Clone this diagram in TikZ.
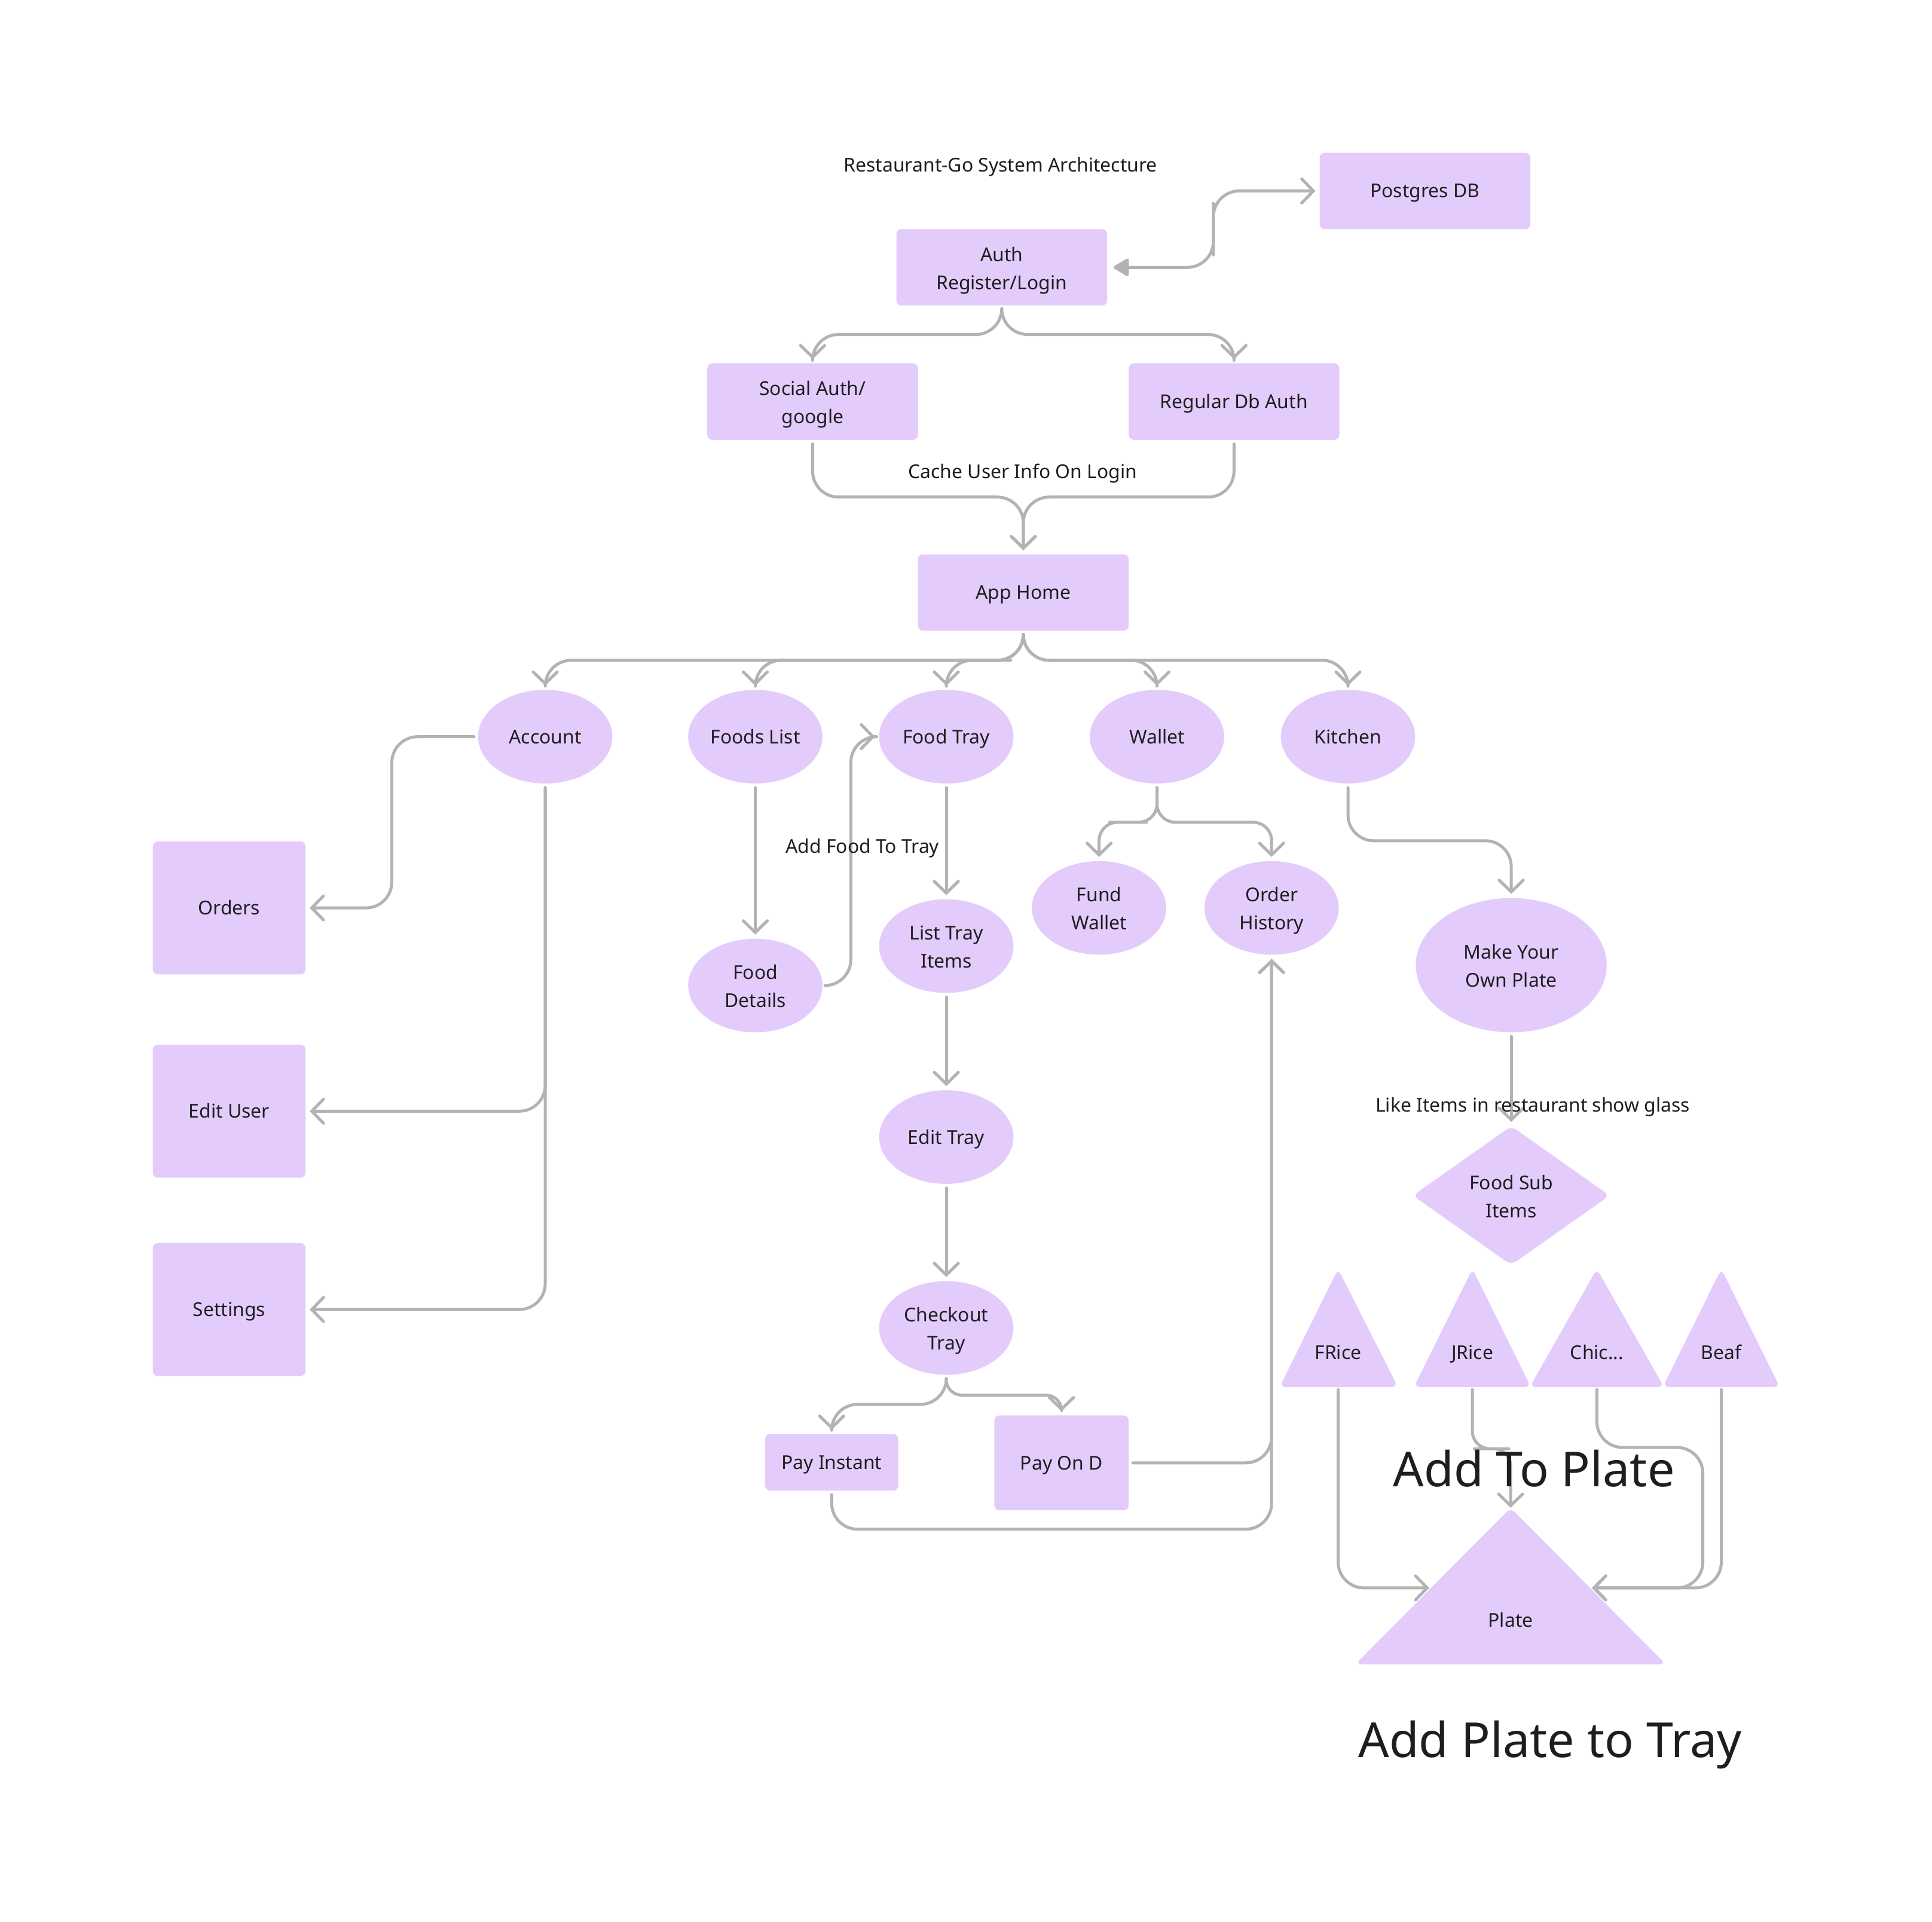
\documentclass[tikz,border=0pt]{standalone}
\usepackage{fontspec}
\setmainfont{Noto Sans}
\usetikzlibrary{arrows.meta,shapes.geometric,calc}
\definecolor{nodefill}{HTML}{E3CCFC}
\definecolor{linegray}{HTML}{B3B3B3}
\definecolor{txt}{HTML}{1E1E1E}
\newcommand\mytxt{\fontsize{8.8}{13}\selectfont}
\newcommand\mybig{\fontsize{22.3}{26}\selectfont}
\tikzset{
  lbl/.style={inner sep=0pt, align=center, text=txt, font=\mytxt, yshift=-0.02cm,
    execute at begin node=\strut, execute at end node=\strut},
  lbltwo/.style={lbl, yshift=-0.06cm},
  t/.style={label={[lbl]center:#1}},
  tt/.style={label={[lbltwo]center:#1}},
  box/.style={rectangle, fill=nodefill, rounded corners=0.08cm, inner sep=0pt},
  oval/.style={ellipse, fill=nodefill, inner sep=0pt, minimum width=2.18cm, minimum height=1.52cm},
  biglbl/.style={inner sep=0pt, text=txt, font=\mybig, yshift=-0.046cm},
  tri/.style={fill=nodefill, rounded corners=0.1cm},
  conn/.style={draw=linegray, line width=1.38pt, line cap=round, line join=round, rounded corners=0.42cm,
    -{Straight Barb[length=0.19cm,width=0.39cm,line cap=round]}, shorten >=0.06cm, shorten <=0.06cm},
}
\begin{document}
\begin{tikzpicture}[x=0.02cm,y=-0.02cm]
\useasboundingbox (0,0) rectangle (1568,1560);
\fill[white] (0,0) rectangle (1568,1560);

% rectangles
\node[box, minimum width=3.42cm, minimum height=1.24cm, t={Postgres DB}] (pg) at (1156.5,155) {};
\node[box, minimum width=3.42cm, minimum height=1.24cm, tt={Auth\\Register/Login}] (auth) at (813,217) {};
\node[box, minimum width=3.42cm, minimum height=1.24cm, tt={Social Auth/\\google}] (social) at (659.5,326) {};
\node[box, minimum width=3.42cm, minimum height=1.24cm, t={Regular Db Auth}] (regular) at (1001.5,326) {};
\node[box, minimum width=3.42cm, minimum height=1.24cm, t={App Home}] (home) at (830.5,481) {};
\node[box, minimum width=2.48cm, minimum height=2.16cm, t={Orders}] (orders) at (186,737) {};
\node[box, minimum width=2.48cm, minimum height=2.16cm, t={Edit User}] (edituser) at (186,902) {};
\node[box, minimum width=2.48cm, minimum height=2.16cm, t={Settings}] (settings) at (186,1063) {};
\node[box, minimum width=2.16cm, minimum height=0.92cm, t={Pay Instant}] (payi) at (675,1187) {};
\node[box, minimum width=2.18cm, minimum height=1.54cm, t={Pay On D}] (payd) at (861.5,1187.5) {};

% ellipses
\node[oval, t={Account}] (account) at (442.5,598) {};
\node[oval, t={Foods List}] (foods) at (613,598) {};
\node[oval, t={Food Tray}] (ftray) at (768,598) {};
\node[oval, t={Wallet}] (wallet) at (939,598) {};
\node[oval, t={Kitchen}] (kitchen) at (1094,598) {};
\node[oval, tt={Food\\Details}] (fdetails) at (613,800) {};
\node[oval, tt={List Tray\\Items}] (listtray) at (768,768) {};
\node[oval, t={Edit Tray}] (edittray) at (768,923) {};
\node[oval, tt={Checkout\\Tray}] (checkout) at (768,1078) {};
\node[oval, tt={Fund\\Wallet}] (fund) at (892,737) {};
\node[oval, tt={Order\\History}] (ohist) at (1032,737) {};
\node[oval, minimum width=3.1cm, minimum height=2.18cm, tt={Make Your\\Own Plate}] (make) at (1226.5,783.5) {};
\node[diamond, fill=nodefill, rounded corners=0.1cm, inner sep=0pt, minimum width=3.2cm, minimum height=2.26cm, tt={Food Sub\\Items}] (sub) at (1226.5,970.5) {};

% triangles
\fill[tri] (1086,1030) -- (1134.5,1126) -- (1038.5,1126) -- cycle;
\fill[tri] (1195,1030) -- (1242.5,1126) -- (1147.5,1126) -- cycle;
\fill[tri] (1296,1030) -- (1350.5,1126) -- (1241.5,1126) -- cycle;
\fill[tri] (1397,1030) -- (1444.5,1126) -- (1349.5,1126) -- cycle;
\fill[tri] (1226,1224) -- (1352,1351) -- (1100,1351) -- cycle;
\node[lbl] (frice) at (1086,1098) {FRice};
\node[lbl] (jrice) at (1195,1098) {JRice};
\node[lbl] (chic) at (1296,1098) {Chic...};
\node[lbl] (beaf) at (1397,1098) {Beaf};
\node[lbl] (plate) at (1226,1315) {Plate};
\coordinate (fricebot) at (1086,1125);
\coordinate (jricebot) at (1195,1125);
\coordinate (chicbot) at (1296,1125);
\coordinate (beafbot) at (1397,1125);
\coordinate (platetop) at (1226,1227);
\coordinate (plateL) at (1163,1289);
\coordinate (plateR) at (1289,1289);
\coordinate (chicbend) at (1382,1175);

% connectors
\draw[conn, {Triangle[length=0.27cm,width=0.31cm,round]}-{Straight Barb[length=0.19cm,width=0.39cm,line cap=round]}, shorten <=0.1cm]
  (auth.east) -| ($(auth.east)!0.5!(pg.west)$) |- (pg.west);
\draw[conn] (auth.south) |- ($(auth.south)!0.5!(social.north)$) -| (social.north);
\draw[conn] (auth.south) |- ($(auth.south)!0.5!(regular.north)$) -| (regular.north);
\draw[conn] (social.south) |- ($(social.south)!0.5!(home.north)$) -| (home.north);
\draw[conn] (regular.south) |- ($(regular.south)!0.5!(home.north)$) -| (home.north);
\foreach \t in {account,foods,ftray,wallet,kitchen}{
  \draw[conn] (home.south) |- ($(home.south)!0.5!(\t.north)$) -| (\t.north);
}
\draw[conn] (account.west) -| ($(account.west)!0.5!(orders.east)$) |- (orders.east);
\draw[conn] (account.south) |- (edituser.east);
\draw[conn] (account.south) |- (settings.east);
\draw[conn] (foods.south) -- (fdetails.north);
\draw[conn] (fdetails.east) -| ($(fdetails.east)!0.5!(ftray.west)$) |- (ftray.west);
\draw[conn] (ftray.south) -- (listtray.north);
\draw[conn] (listtray.south) -- (edittray.north);
\draw[conn] (edittray.south) -- (checkout.north);
\draw[conn] (checkout.south) |- ($(checkout.south)!0.5!(payi.north)$) -| (payi.north);
\draw[conn, rounded corners=0.25cm] (checkout.south) |- ($(checkout.south)!0.5!(payd.north)$) -| (payd.north);
\draw[conn] (payd.east) -| (ohist.south);
\draw[conn] (payi.south) -- ++(0,31) -| (ohist.south);
\draw[conn, rounded corners=0.3cm] (wallet.south) |- ($(wallet.south)!0.5!(fund.north)$) -| (fund.north);
\draw[conn, rounded corners=0.3cm] (wallet.south) |- ($(wallet.south)!0.5!(ohist.north)$) -| (ohist.north);
\draw[conn] (kitchen.south) |- ($(kitchen.south)!0.5!(make.north)$) -| (make.north);
\draw[conn] (make.south) -- (sub.north);
\draw[conn] (fricebot) |- (plateL);
\draw[conn, rounded corners=0.28cm] (jricebot) |- ($(jricebot)!0.5!(platetop)$) -| (platetop);
\draw[conn] (chicbot) |- (chicbend) |- (plateR);
\draw[conn] (beafbot) |- (plateR);

% free labels
\node[lbl] (title) at (812,134) {Restaurant-Go System Architecture};
\node[lbl] (cache) at (830,383) {Cache User Info On Login};
\node[lbl] (addfood) at (700,687) {Add Food To Tray};
\node[lbl] (likeitems) at (1244,897) {Like Items in restaurant show glass};
\node[biglbl] (addtoplate) at (1245,1190) {Add To Plate};
\node[biglbl] (addplatetray) at (1258,1414) {Add Plate to Tray};
\end{tikzpicture}
\end{document}
